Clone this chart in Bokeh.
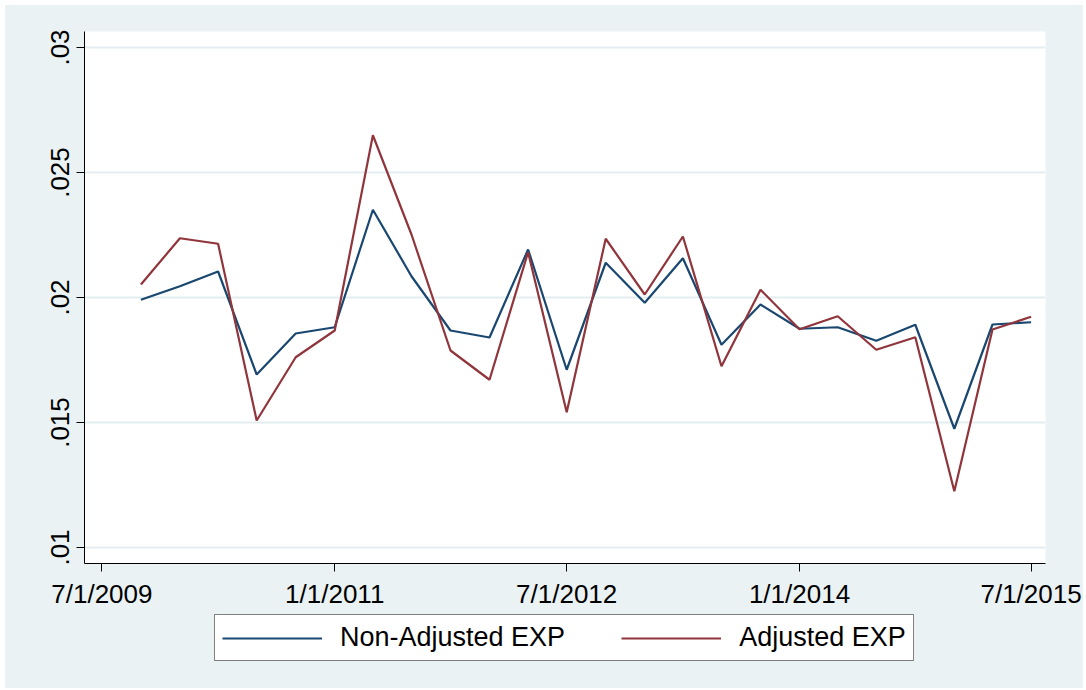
import datetime as dt
from bokeh.plotting import figure
from bokeh.layouts import column
from bokeh.models import Range1d, FixedTicker, Legend, LegendItem, CustomJSTickFormatter
from bokeh.embed import file_html
from bokeh.resources import INLINE

# ---- data ----
dates = ["10/1/2009", "1/1/2010", "4/1/2010", "7/1/2010", "10/1/2010", "1/1/2011",
         "4/1/2011", "7/1/2011", "10/1/2011", "1/1/2012", "4/1/2012", "7/1/2012",
         "10/1/2012", "1/1/2013", "4/1/2013", "7/1/2013", "10/1/2013", "1/1/2014",
         "4/1/2014", "7/1/2014", "10/1/2014", "1/1/2015", "4/1/2015", "7/1/2015"]
non_adjusted = [0.01991, 0.02045, 0.02104, 0.01692, 0.01856, 0.01881,
                0.02351, 0.02085, 0.01868, 0.01840, 0.02192, 0.01711,
                0.02139, 0.01979, 0.02157, 0.01811, 0.01972, 0.01875,
                0.01881, 0.01827, 0.01891, 0.01475, 0.01892, 0.01901]
adjusted = [0.02052, 0.02237, 0.02215, 0.01508, 0.01761, 0.01868,
            0.02649, 0.02252, 0.01788, 0.01671, 0.02181, 0.01541,
            0.02235, 0.02012, 0.02244, 0.01725, 0.02031, 0.01873,
            0.01925, 0.01791, 0.01841, 0.01225, 0.01872, 0.01923]
x_tick_dates = ["7/1/2009", "1/1/2011", "7/1/2012", "1/1/2014", "7/1/2015"]
y_ticks = [0.01, 0.015, 0.02, 0.025, 0.03]
y_tick_labels = [".01", ".015", ".02", ".025", ".03"]
series_names = ["Non-Adjusted EXP", "Adjusted EXP"]
series_colors = ["#1A476F", "#90353B"]


def td(s):
    m, d, y = map(int, s.split("/"))
    return (dt.date(y, m, d) - dt.date(1960, 1, 1)).days


x = [td(s) for s in dates]
x_ticks = [td(s) for s in x_tick_dates]

FONT = "Liberation Sans"
BG = "#EAF2F3"

p = figure(width=1078, height=607, output_backend="svg", toolbar_location=None,
           x_range=Range1d(x_ticks[0] - 41, x_ticks[-1] + 34),
           y_range=Range1d(0.00936, 0.03064),
           min_border_left=79, min_border_right=38, min_border_top=26,
           min_border_bottom=49)
p.border_fill_color = BG
p.background_fill_color = "white"
p.outline_line_color = None

p.line(x, non_adjusted, line_color=series_colors[0], line_width=2.2)
p.line(x, adjusted, line_color=series_colors[1], line_width=2.2)

JS = """
    let best = 0;
    for (let i = 0; i < t.length; i++) { if (Math.abs(t[i] - tick) < Math.abs(t[best] - tick)) best = i; }
    return lab[best];
"""
xa = p.xaxis[0]
xa.ticker = FixedTicker(ticks=x_ticks)
xa.formatter = CustomJSTickFormatter(args=dict(t=x_ticks, lab=x_tick_dates), code=JS)
ya = p.yaxis[0]
ya.ticker = FixedTicker(ticks=y_ticks)
ya.formatter = CustomJSTickFormatter(args=dict(t=y_ticks, lab=y_tick_labels), code=JS)
ya.major_label_orientation = "vertical"
for ax in (xa, ya):
    ax.axis_line_color = "black"
    ax.axis_line_width = 1
    ax.major_tick_line_color = "black"
    ax.major_tick_out = 8
    ax.major_tick_in = 0
    ax.minor_tick_line_color = None
    ax.major_label_text_font = FONT
    ax.major_label_text_font_size = "26px"
    ax.major_label_text_color = "black"
xa.major_label_standoff = 7
ya.major_label_standoff = 8

p.xgrid.grid_line_color = None
p.ygrid.grid_line_color = "#E3EDEF"
p.ygrid.grid_line_width = 2

# legend strip under the plot (series drawn here only as legend keys, outside the view)
p2 = figure(width=1078, height=76, output_backend="svg", toolbar_location=None,
            x_axis_type=None, y_axis_type=None,
            x_range=Range1d(0, 1), y_range=Range1d(0, 1),
            min_border_left=0, min_border_right=0, min_border_top=0,
            min_border_bottom=0)
p2.border_fill_color = BG
p2.background_fill_color = BG
p2.outline_line_color = None
p2.grid.visible = False
k1 = p2.line(x, non_adjusted, line_color=series_colors[0], line_width=2.2)
k2 = p2.line(x, adjusted, line_color=series_colors[1], line_width=2.2)

legend = Legend(items=[LegendItem(label=series_names[0], renderers=[k1]),
                       LegendItem(label=series_names[1], renderers=[k2])],
                orientation="horizontal", location=(130, 27),
                label_text_font=FONT, label_text_font_size="27px",
                label_text_color="black",
                glyph_width=100, glyph_height=28, label_height=28,
                label_standoff=18, spacing=56, padding=7, margin=0,
                border_line_color="black", border_line_width=1,
                background_fill_color="white", background_fill_alpha=1)
p2.add_layout(legend, "center")

layout = column(p, p2, spacing=0,
                styles={"margin-left": "5px", "margin-top": "5px",
                        "background-color": BG})

open("out.html", "w").write(file_html(layout, INLINE))
